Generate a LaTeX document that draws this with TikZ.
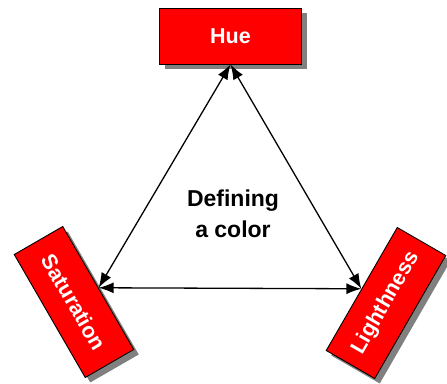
\documentclass[tikz,border=0pt]{standalone}
\usepackage{fontspec}
\setmainfont{Liberation Sans}
\usetikzlibrary{arrows.meta,shadows}
\definecolor{boxRed}{HTML}{FF0000}
\definecolor{boxShadow}{HTML}{808080}
\tikzset{
    colorbox/.style={draw=black, line width=0.9pt, fill=boxRed, text=white,
        font=\fontsize{21.5}{25}\selectfont\bfseries,
        minimum width=142pt, minimum height=56pt, inner sep=0pt,
        drop shadow={shadow xshift=5pt, shadow yshift=-5pt, fill=boxShadow, opacity=1}},
    link/.style={{Latex[length=15pt,width=11pt]}-{Latex[length=15pt,width=11pt]}, line width=1.3pt}
}
\begin{document}
\begin{tikzpicture}[x=1pt,y=1pt]
            \useasboundingbox (0,0) rectangle (447,383);
            \node[colorbox] (hue) at (230.5,347) {Hue};
            \node[colorbox, rotate=-60] (sat) at (74,81) {Saturation};
            \node[colorbox, rotate=60] (lig) at (386,80) {Lighthness};
            \node[align=center, font=\fontsize{23}{31}\selectfont\bfseries] (def) at (233,169) {Defining\\a color};
            \draw[link] (hue.south) -- (sat.north);
            \draw[link] (hue.south) -- (lig.north);
            \draw[link] (sat.north) -- (lig.north);
        \end{tikzpicture}
\end{document}
